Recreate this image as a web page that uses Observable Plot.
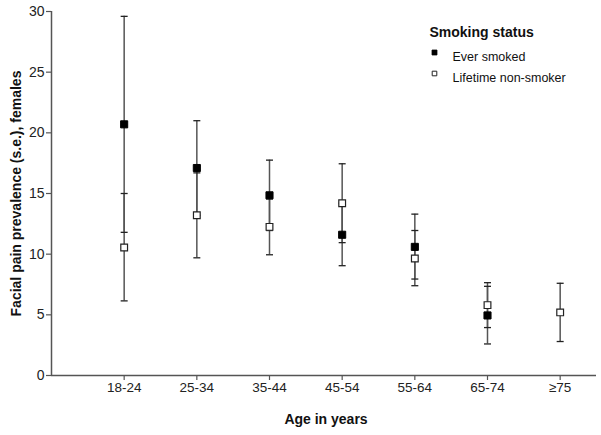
<!DOCTYPE html>
<html>
<head>
<meta charset="utf-8">
<script src="https://cdn.jsdelivr.net/npm/d3@7"></script>
<script src="https://cdn.jsdelivr.net/npm/@observablehq/plot@0.6"></script>
<style>
  html, body { margin: 0; padding: 0; background: white; }
</style>
</head>
<body>
<div id="chart"></div>
<script>
const ages = ["18-24", "25-34", "35-44", "45-54", "55-64", "65-74", "≥75"];
const seriesNames = ["Ever smoked", "Lifetime non-smoker"];
const everMean  = [20.7, 17.1, 14.85, 11.6, 10.6, 4.95, null];
const everLow   = [11.8, 13.2, 11.95, 9.05, 7.95, 2.6, null];
const everHigh  = [29.6, 21.0, 17.75, 14.2, 13.3, 7.35, null];
const neverMean = [10.55, 13.2, 12.25, 14.2, 9.65, 5.8, 5.2];
const neverLow  = [6.15, 9.7, 9.95, 10.95, 7.4, 3.95, 2.8];
const neverHigh = [15.0, 16.7, 14.55, 17.45, 11.95, 7.65, 7.6];
const yTicks = [0, 5, 10, 15, 20, 25, 30];
const yLabel = "Facial pain prevalence (s.e.), females";
const xLabel = "Age in years";
const legendTitle = "Smoking status";

const rows = [];
ages.forEach((a, i) => {
  if (everMean[i] != null) rows.push({i, age: a, series: seriesNames[0], mean: everMean[i], lo: everLow[i], hi: everHigh[i]});
  if (neverMean[i] != null) rows.push({i, age: a, series: seriesNames[1], mean: neverMean[i], lo: neverLow[i], hi: neverHigh[i]});
});
const caps = rows.flatMap(d => [{i: d.i, v: d.lo}, {i: d.i, v: d.hi}]);
const everRows = rows.filter(d => d.series === seriesNames[0]);
const neverRows = rows.filter(d => d.series === seriesNames[1]);

const capSymbol = {
  draw(context, size) {
    const r = Math.sqrt(size / Math.PI);
    context.moveTo(-r, 0);
    context.lineTo(r, 0);
  }
};

const font = "'Liberation Sans', Arial, sans-serif";

const chart = Plot.plot({
  width: 601,
  height: 435,
  marginLeft: 51,
  marginRight: 5,
  marginTop: 11,
  marginBottom: 60,
  style: {fontFamily: font, fontSize: "13px", color: "#222", background: "white"},
  x: {type: "linear", domain: [-1, ages.length - 0.5]},
  y: {domain: [0, 30]},
  marks: [
    Plot.axisX({ticks: d3.range(ages.length), tickFormat: i => ages[i], tickSize: 5, tickPadding: 2, label: null, stroke: "#555", strokeWidth: 1.2, fontSize: 13.5}),
    Plot.axisY({ticks: yTicks, tickSize: 5, tickPadding: 2, label: null, stroke: "#555", strokeWidth: 1.2, fontSize: 14}),
    Plot.ruleX([-1], {stroke: "#555", strokeWidth: 1.5}),
    Plot.ruleY([0], {stroke: "#555", strokeWidth: 1.5}),
    Plot.ruleX(rows, {x: "i", y1: "lo", y2: "hi", stroke: "#555", strokeWidth: 1.5}),
    Plot.dot(caps, {x: "i", y: "v", symbol: capSymbol, r: 3.5, fill: "none", stroke: "#222", strokeWidth: 1.3}),
    Plot.dot(everRows, {x: "i", y: "mean", symbol: "square", r: 4, fill: "black", stroke: "black", strokeWidth: 1}),
    Plot.dot(neverRows, {x: "i", y: "mean", symbol: "square", r: 3.8, fill: "white", stroke: "#222", strokeWidth: 1.2}),
    Plot.text([yLabel], {frameAnchor: "left", dx: -35, rotate: -90, textAnchor: "middle", fontWeight: "bold", fontSize: 14, fill: "#111"}),
    Plot.text([xLabel], {frameAnchor: "bottom", dy: 48, dx: 2, textAnchor: "middle", fontWeight: "bold", fontSize: 14, fill: "#111"}),
    Plot.text([legendTitle], {frameAnchor: "top-left", dx: 378, dy: 16, fontWeight: "bold", fontSize: 14, textAnchor: "start", fill: "#111"}),
    Plot.dot([seriesNames[0]], {frameAnchor: "top-left", dx: 383, dy: 41, symbol: "square", r: 2.8, fill: "black", stroke: "black", strokeWidth: 0.8}),
    Plot.dot([seriesNames[1]], {frameAnchor: "top-left", dx: 383, dy: 62, symbol: "square", r: 2.6, fill: "white", stroke: "#222", strokeWidth: 1}),
    Plot.text([seriesNames[0]], {frameAnchor: "top-left", dx: 401, dy: 41, textAnchor: "start", fontSize: 12.5, fill: "#111"}),
    Plot.text([seriesNames[1]], {frameAnchor: "top-left", dx: 401, dy: 62, textAnchor: "start", fontSize: 12.5, fill: "#111"})
  ]
});
document.getElementById("chart").appendChild(chart);
</script>
</body>
</html>
